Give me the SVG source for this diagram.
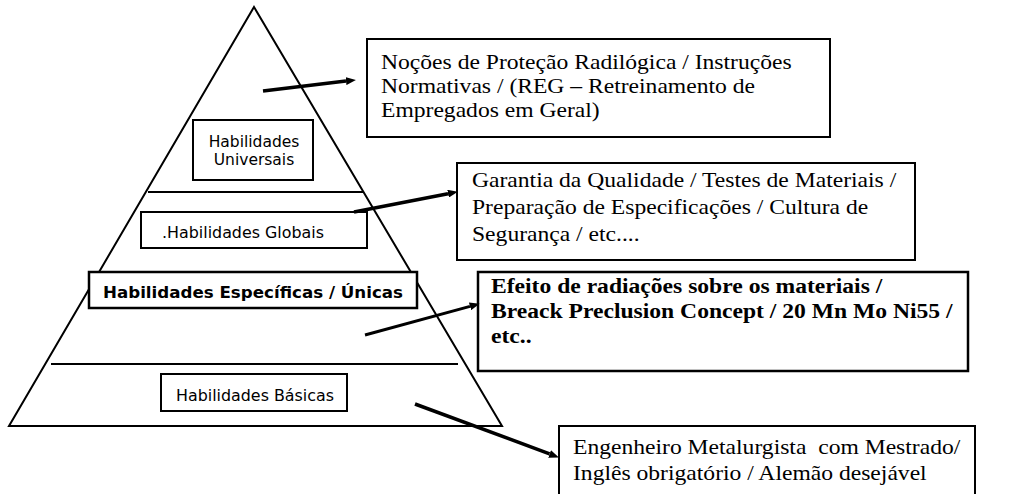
<svg xmlns="http://www.w3.org/2000/svg" width="1031" height="494" viewBox="0 0 1031 494">
<style>
.shape{fill:none;stroke:#000;stroke-width:2}
.box{fill:#fff;stroke:#000;stroke-width:2}
.boxb{fill:#fff;stroke:#000;stroke-width:2.5}
.lbl{font-family:"DejaVu Sans","Verdana",sans-serif;font-size:15.5px;fill:#000}
.lblb{font-family:"DejaVu Sans","Verdana",sans-serif;font-size:16px;font-weight:bold;fill:#000}
.txt{font-family:"Liberation Serif","Times New Roman",serif;font-size:20px;fill:#000}
.txtb{font-family:"Liberation Serif","Times New Roman",serif;font-size:20px;font-weight:bold;fill:#000}
.arr{stroke:#000;stroke-width:3.5;fill:none;marker-end:url(#ah)}
</style>
<defs>
<marker id="ah" markerUnits="userSpaceOnUse" viewBox="0 -4 10 8" refX="0" refY="0" markerWidth="10" markerHeight="8" orient="auto">
<path d="M0,-4 L10,0 L0,4 z" fill="#000"/>
</marker>
</defs>
<rect width="1031" height="494" fill="#fff"/>
<g id="pyramid">
<polygon class="shape" points="254,7 502,426 9,426"/>
<line class="shape" x1="148" y1="192" x2="363" y2="192"/>
<line class="shape" x1="51" y1="364" x2="458" y2="364"/>
</g>
<g id="universais">
<rect class="box" x="193" y="120" width="120" height="60"/>
<text class="lbl" text-anchor="middle" x="254" y="147">Habilidades</text>
<text class="lbl" text-anchor="middle" x="254" y="165">Universais</text>
</g>
<g id="globais">
<rect class="box" x="141" y="212" width="226" height="36"/>
<text class="lbl" x="162" y="238" textLength="162" lengthAdjust="spacingAndGlyphs">.Habilidades Globais</text>
</g>
<g id="especificas">
<rect class="boxb" x="89" y="272" width="328" height="36"/>
<text class="lblb" x="103" y="298" textLength="300" lengthAdjust="spacingAndGlyphs">Habilidades Específicas / Únicas</text>
</g>
<g id="basicas">
<rect class="box" x="161" y="374" width="186" height="37"/>
<text class="lbl" x="176" y="401" textLength="158" lengthAdjust="spacingAndGlyphs">Habilidades Básicas</text>
</g>
<g id="box-universais">
<rect class="box" x="367" y="39" width="463" height="98"/>
<text class="txt" transform="translate(381,0) scale(1.18,1)"><tspan x="0" y="69">Noções de Proteção Radilógica / Instruções</tspan><tspan x="0" y="93">Normativas / (REG – Retreinamento de</tspan><tspan x="0" y="117">Empregados em Geral)</tspan></text>
</g>
<g id="box-globais">
<rect class="box" x="457" y="163" width="458" height="97"/>
<text class="txt" transform="translate(472,0) scale(1.18,1)"><tspan x="0" y="187">Garantia da Qualidade / Testes de Materiais /</tspan><tspan x="0" y="214">Preparação de Especificações / Cultura de</tspan><tspan x="0" y="241">Segurança / etc....</tspan></text>
</g>
<g id="box-especificas">
<rect class="boxb" x="478" y="272" width="490" height="99"/>
<text class="txtb" transform="translate(491,0) scale(1.18,1)"><tspan x="0" y="293">Efeito de radiações sobre os materiais /</tspan><tspan x="0" y="318">Breack Preclusion Concept / 20 Mn Mo Ni55 /</tspan><tspan x="0" y="343">etc..</tspan></text>
</g>
<g id="box-basicas">
<rect class="box" x="559" y="426" width="416" height="90"/>
<text class="txt" transform="translate(573,0) scale(1.18,1)"><tspan x="0" y="454" xml:space="preserve">Engenheiro Metalurgista  com Mestrado/</tspan><tspan x="0" y="480">Inglês obrigatório / Alemão desejável</tspan></text>
</g>
<g id="connectors">
<line class="arr" x1="263" y1="91" x2="346" y2="81.1"/>
<line class="arr" x1="354" y1="212" x2="448" y2="193.7"/>
<line class="arr" x1="365" y1="335" x2="470" y2="306.4" style="stroke-width:3"/>
<line class="arr" x1="415" y1="404" x2="549.6" y2="453.9"/>
</g>
</svg>
